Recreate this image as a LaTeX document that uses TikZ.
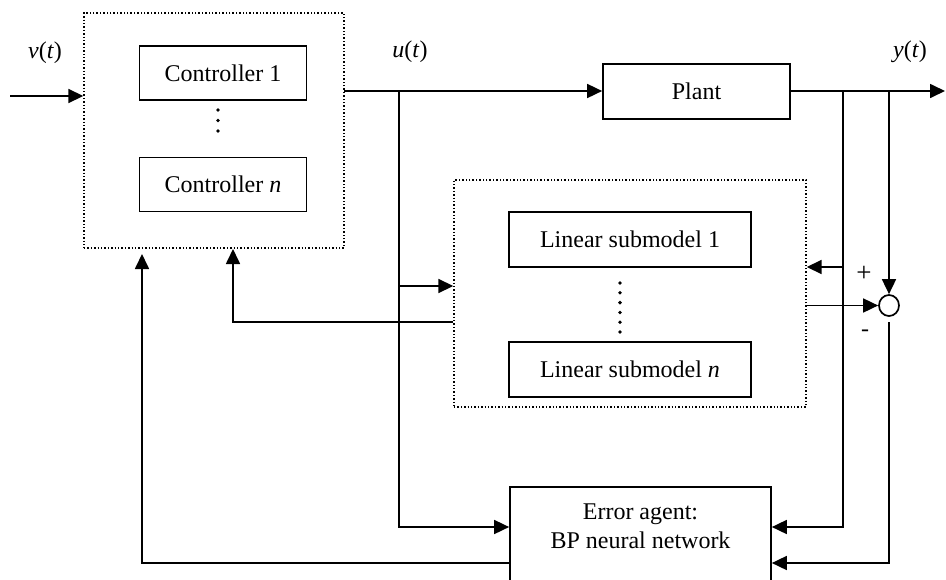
\documentclass[tikz,border=0pt]{standalone}
\usepackage{fontspec}
\setmainfont{Liberation Serif}
\usetikzlibrary{arrows.meta,shapes.geometric}
\begin{document}
\begin{tikzpicture}[x=1pt,y=-1pt,
  line width=1.7pt,
  font=\fontsize{24}{28}\selectfont,
  arr/.style={-{Triangle[length=15pt,width=14pt]}},
  blk/.style={draw,rectangle,inner sep=0pt,line width=1.7pt},
  grp/.style={draw,rectangle,dotted,line width=1.4pt,inner sep=0pt},
  dotmark/.style={circle,fill,inner sep=0pt,minimum size=3.8pt},
  lbl/.style={inner sep=0pt}]
\useasboundingbox (0,0) rectangle (946,579);
\clip (0,0) rectangle (946,579);
% groups
\node[grp,minimum width=260pt,minimum height=235pt] (ctrlbox) at (214,130.5) {};
\node[grp,minimum width=352pt,minimum height=227pt] (linbox) at (630,293.5) {};
% blocks
\node[blk,minimum width=167pt,minimum height=54pt] (c1) at (223,73) {Controller 1};
\node[blk,minimum width=167pt,minimum height=54pt] (cn) at (223,184.5) {Controller \textit{n}};
\node[dotmark] (cd1) at (218,110) {};
\node[dotmark] (cd2) at (218,120.5) {};
\node[dotmark] (cd3) at (218,131) {};
\node[blk,minimum width=187pt,minimum height=55pt] (plant) at (696.5,91.5) {Plant};
\node[blk,minimum width=242pt,minimum height=55pt] (ls1) at (630,239.5) {Linear submodel 1};
\node[blk,minimum width=242pt,minimum height=55pt] (lsn) at (630,369.5) {Linear submodel \textit{n}};
\foreach \i/\yy in {1/283,2/292.8,3/302.6,4/312.4,5/322.2,6/332} {
  \node[dotmark] (ld\i) at (620,\yy) {};
}
\node[blk,minimum width=261pt,minimum height=110pt] (err) at (640.5,542) {};
\node[lbl,align=center] (errtxt) at (640.5,526) {Error agent:\\[1pt]BP neural network};
\node[draw,ellipse,line width=1.7pt,minimum width=20pt,minimum height=21pt,inner sep=0pt] (sum) at (889,305.5) {};
% labels
\node[lbl] (vl) at (45,53) {\textit{v}(\textit{t})};
\node[lbl] (ul) at (410,52) {\textit{u}(\textit{t})};
\node[lbl] (yl) at (910,52) {\textit{y}(\textit{t})};
\node[lbl,font=\fontsize{27}{30}\selectfont] (plus) at (864,274) {+};
\node[lbl] (minus) at (865,333) {-};
% coordinates
\coordinate (vin) at (10,96);
\coordinate (uout) at (344,91);
\coordinate (ub) at (399,91);
\coordinate (yb1) at (843,91);
\coordinate (yb2) at (889,91);
\coordinate (yend) at (945,91);
\coordinate (sumlow) at (889,322);
\coordinate (fbl) at (142,254);
\coordinate (fbm) at (233,249);
% connectors
\draw[arr] (vin) -- (vin -| ctrlbox.west);
\draw[arr] (uout) -- (uout -| plant.west);
\draw[arr] (plant.east |- yend) -- (yend);
\draw[arr] (ub) |- (err.west |- 0,527);
\draw[arr] (ub |- 0,286) -- (linbox.west |- 0,286);
\draw[arr] (linbox.west |- 0,322) -| (fbm);
\draw[arr] (err.west |- 0,563) -| (fbl);
\draw[arr] (yb1) |- (err.east |- 0,527);
\draw[arr] (yb1 |- 0,267) -- (linbox.east |- 0,267);
\draw[arr] (yb2) -- (sum.north);
\draw[arr] (linbox.east |- sum.west) -- (sum.west);
\draw[arr] (sumlow) |- (err.east |- 0,563);
\end{tikzpicture}
\end{document}
